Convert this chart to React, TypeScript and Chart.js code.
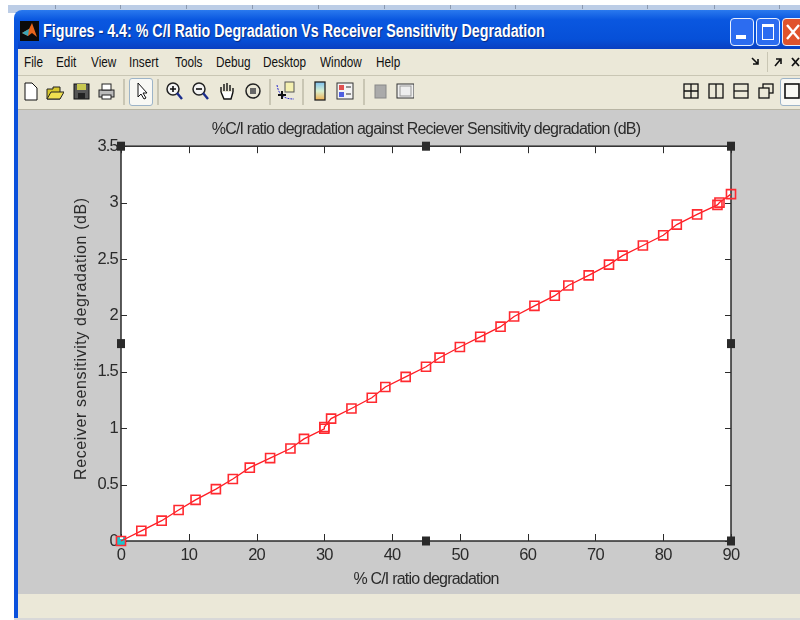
import React, { useEffect, useRef } from "react";
import { Chart, registerables } from "chart.js";

Chart.register(...registerables);

const windowTitle = "Figures - 4.4: % C/I Ratio Degradation Vs Receiver Sensitivity Degradation";
const chartTitle = "%C/I ratio degradation against Reciever Sensitivity degradation (dB)";
const xAxisTitle = "% C/I ratio degradation";
const yAxisTitle = "Receiver sensitivity degradation (dB)";
const menuItems: [string, number][] = [
  ["File", 24], ["Edit", 56], ["View", 91], ["Insert", 129], ["Tools", 175],
  ["Debug", 216], ["Desktop", 263], ["Window", 320], ["Help", 376],
];
const ratioDegradation = [0, 3, 6, 8.5, 11, 14, 16.5, 19, 22, 25, 27, 30, 30, 31, 34, 37, 39, 42, 45, 47, 50, 53, 56, 58, 61, 64, 66, 69, 72, 74, 77, 80, 82, 85, 88, 88.3, 90];
const sensitivityDegradation = [0, 0.09, 0.18, 0.275, 0.365, 0.46, 0.55, 0.65, 0.735, 0.82, 0.905, 0.995, 1.01, 1.085, 1.175, 1.27, 1.365, 1.455, 1.545, 1.625, 1.72, 1.81, 1.9, 1.99, 2.085, 2.175, 2.265, 2.355, 2.45, 2.53, 2.62, 2.71, 2.805, 2.895, 2.98, 3.0, 3.075];

const FONT = '"Liberation Sans", Arial, sans-serif';
const INK = "#2b2b2b";
const NARROW = "-0.8px";
const WIDE = "0.6px";

const matlabFrame = {
  id: "matlabFrame",
  beforeDraw(chart: any) {
    const { ctx, scales } = chart;
    ctx.letterSpacing = NARROW;
    const y = scales.y;
    if (!y.__wideTitle) {
      const original = y.drawTitle;
      y.drawTitle = function () {
        ctx.save();
        ctx.translate(2, -5);
        ctx.letterSpacing = WIDE;
        original.call(y);
        ctx.restore();
        ctx.letterSpacing = NARROW;
      };
      y.__wideTitle = true;
    }
  },
  beforeDatasetsDraw(chart: any) {
    const { ctx, chartArea: a, scales } = chart;
    ctx.save();
    ctx.fillStyle = "#ffffff";
    ctx.fillRect(a.left, a.top, a.width, a.height);
    ctx.strokeStyle = INK;
    ctx.lineWidth = 1.5;
    ctx.strokeRect(a.left, a.top, a.width, a.height);
    ctx.lineWidth = 1;
    ctx.beginPath();
    for (const t of scales.x.ticks) {
      const x = Math.round(scales.x.getPixelForValue(t.value)) + 0.5;
      ctx.moveTo(x, a.bottom); ctx.lineTo(x, a.bottom - 7);
      ctx.moveTo(x, a.top); ctx.lineTo(x, a.top + 7);
    }
    for (const t of scales.y.ticks) {
      const y = Math.round(scales.y.getPixelForValue(t.value)) + 0.5;
      ctx.moveTo(a.left, y); ctx.lineTo(a.left + 6, y);
      ctx.moveTo(a.right, y); ctx.lineTo(a.right - 6, y);
    }
    ctx.stroke();
    const mx = (a.left + a.right) / 2;
    const my = (a.top + a.bottom) / 2;
    ctx.fillStyle = "#2a2a2a";
    for (const [x, y] of [[a.left, a.top], [mx, a.top], [a.right, a.top], [a.left, my], [a.right, my], [a.left, a.bottom], [mx, a.bottom], [a.right, a.bottom]]) {
      ctx.fillRect(x - 4, y - 4.5, 8, 9);
    }
    ctx.fillStyle = "#1fc4cc";
    ctx.fillRect(a.left - 4, a.bottom - 5, 8, 10);
    ctx.fillStyle = "#ffffff";
    ctx.fillRect(a.left - 1, a.bottom - 5, 3, 3);
    ctx.restore();
  },
};

const Ico = ({ x, w = 18, children }: { x: number; w?: number; children: React.ReactNode }) => (
  <svg style={{ position: "absolute", left: x, top: 81, width: w, height: 20 }} viewBox={`0 0 ${w} 20`}>{children}</svg>
);

const Sep = ({ x }: { x: number }) => (
  <div style={{ position: "absolute", left: x, top: 79, width: 2, height: 26, background: "#c9c6b4" }} />
);

const Magnifier = ({ sign }: { sign: "+" | "-" }) => (
  <>
    <circle cx="8" cy="8" r="6" fill="#f4f4f4" stroke="#222" strokeWidth="1.5" />
    <path d="M12 12 L17 18" stroke="#1a2c8c" strokeWidth="2.4" />
    <path d={sign === "+" ? "M5 8H11M8 5V11" : "M5 8H11"} stroke="#111" strokeWidth="1.6" />
  </>
);

export default function App() {
  const ref = useRef<HTMLCanvasElement>(null);

  useEffect(() => {
    document.body.style.margin = "0";
    const chart = new Chart(ref.current!, {
      type: "line",
      data: {
        datasets: [{
          data: ratioDegradation.map((x, i) => ({ x, y: sensitivityDegradation[i] })),
          borderColor: "#ff1c24",
          borderWidth: 1.3,
          pointStyle: "rect",
          pointRadius: 6.4,
          pointBorderWidth: 1.6,
          pointBorderColor: "#ff2a30",
          pointBackgroundColor: "rgba(0,0,0,0)",
          tension: 0,
          clip: false as any,
        }],
      },
      options: {
        animation: false,
        responsive: false,
        events: [],
        layout: { padding: { left: 70, right: 69, top: 0, bottom: 31 } },
        plugins: {
          legend: { display: false },
          tooltip: { enabled: false },
          title: {
            display: true,
            fullSize: false,
            text: chartTitle,
            color: INK,
            font: { family: FONT, size: 16, weight: "normal" },
            padding: { top: 120, bottom: 7 },
          },
        },
        scales: {
          x: {
            type: "linear",
            min: 0,
            max: 90,
            afterFit: (s: any) => { s.height = 48; },
            grid: { display: false, drawTicks: false },
            border: { display: false },
            ticks: {
              stepSize: 10,
              maxRotation: 0,
              padding: 5,
              color: INK,
              font: { family: FONT, size: 16.5 },
              callback: (v: any) => String(v),
            },
            title: {
              display: true,
              text: xAxisTitle,
              color: INK,
              font: { family: FONT, size: 16 },
              padding: { top: 0, bottom: 0 },
            },
          },
          y: {
            type: "linear",
            min: 0,
            max: 3.5,
            afterFit: (s: any) => { s.width = 51; },
            grid: { display: false, drawTicks: false },
            border: { display: false },
            ticks: {
              stepSize: 0.5,
              padding: 3,
              color: INK,
              font: { family: FONT, size: 16.5 },
              callback: (v: any) => String(v),
            },
            title: {
              display: true,
              text: yAxisTitle,
              color: INK,
              font: { family: FONT, size: 16 },
              padding: { top: 0, bottom: 0 },
            },
          },
        },
      },
      plugins: [matlabFrame],
    } as any);
    return () => chart.destroy();
  }, []);

  return (
    <div style={{ position: "relative", width: 800, height: 620, overflow: "hidden", background: "#fff", fontFamily: FONT }}>
      {/* strip of the window behind */}
      <div style={{ position: "absolute", left: 8, top: 5, width: 792, height: 8, background: "#bccde6" }} />
      {[55, 120, 186, 252, 318, 384, 450, 515, 582, 647, 714, 779].map((x) => (
        <div key={x} style={{ position: "absolute", left: x, top: 5, width: 1, height: 4, background: "#8a99b0" }} />
      ))}
      {/* title bar */}
      <div style={{ position: "absolute", left: 14, top: 10, width: 786, height: 39, borderTopLeftRadius: 8, background: "linear-gradient(#2a79ee 0%, #0a57e0 25%, #0650d8 75%, #0a3fc0 100%)" }} />
      <svg style={{ position: "absolute", left: 20, top: 21, width: 19, height: 20 }} viewBox="0 0 19 20">
        <rect width="19" height="20" fill="#0b0b0b" />
        <path d="M2 12 L9 8 L12 2 L17 16 L12 12 L8 15 Z" fill="#e8651c" />
        <path d="M2 12 L9 8 L8 15 Z" fill="#3aa6b8" />
      </svg>
      <div style={{ position: "absolute", left: 43, top: 21, color: "#fff", fontSize: 17.5, fontWeight: 700, whiteSpace: "nowrap", textShadow: "1px 1px 1px #0a2a80", transform: "scaleX(0.815)", transformOrigin: "left center" }}>{windowTitle}</div>
      {[[730, "#2c6cf0"], [756, "#2c6cf0"], [782, "#e0532c"]].map(([x, c]) => (
        <div key={x as number} style={{ position: "absolute", left: x as number, top: 18, width: 22, height: 26, borderRadius: 4, border: "1px solid #e8f0ff", background: c as string }} />
      ))}
      <div style={{ position: "absolute", left: 736, top: 35, width: 10, height: 4, background: "#fff" }} />
      <div style={{ position: "absolute", left: 762, top: 24, width: 10, height: 12, border: "1.5px solid #fff", borderTopWidth: 3 }} />
      <svg style={{ position: "absolute", left: 786, top: 24, width: 14, height: 16 }} viewBox="0 0 14 16">
        <path d="M1 1 L13 15 M13 1 L1 15" stroke="#fff" strokeWidth="2.4" />
      </svg>
      {/* left window edge */}
      <div style={{ position: "absolute", left: 14, top: 40, width: 4, height: 580, background: "#0a50dc" }} />
      {/* menu bar */}
      <div style={{ position: "absolute", left: 18, top: 49, width: 782, height: 26, background: "#ebe8d8", borderBottom: "1px solid #c9c6b4" }} />
      {menuItems.map(([label, x]) => (
        <div key={label} style={{ position: "absolute", left: x, top: 54, fontSize: 14, color: "#111", whiteSpace: "nowrap", transform: "scaleX(0.84)", transformOrigin: "left center" }}>{label}</div>
      ))}
      <div style={{ position: "absolute", left: 767, top: 52, width: 1, height: 20, background: "#c9c6b4" }} />
      <svg style={{ position: "absolute", left: 750, top: 56, width: 50, height: 12 }} viewBox="0 0 50 12">
        <path d="M2 2 L8 8 M8 3 V8 H3" stroke="#111" strokeWidth="1.6" fill="none" />
        <path d="M25 10 L30 4 M26 3 H31 V8" stroke="#111" strokeWidth="1.6" fill="none" />
        <path d="M42 2 L49 10 M49 2 L42 10" stroke="#111" strokeWidth="1.8" />
      </svg>
      {/* toolbar */}
      <div style={{ position: "absolute", left: 18, top: 76, width: 782, height: 33, background: "#ebe8d8", borderBottom: "1px solid #b8b5a4" }} />
      <Ico x={22}><path d="M3 2H10L15 7V19H3Z" fill="#fff" stroke="#111" /></Ico>
      <Ico x={46}><path d="M1 18V8H7V6H14V18Z" fill="#d8c82c" stroke="#222" /><path d="M1 18L5 11H18L14 18Z" fill="#f0e050" stroke="#222" /></Ico>
      <Ico x={72}><rect x="2" y="3" width="15" height="15" fill="#555" stroke="#111" /><rect x="5" y="3" width="9" height="6" fill="#c8c850" /><rect x="6" y="12" width="7" height="6" fill="#222" /></Ico>
      <Ico x={97}><rect x="2" y="9" width="15" height="7" fill="#bbb" stroke="#222" /><rect x="5" y="3" width="9" height="6" fill="#fff" stroke="#222" /><rect x="5" y="14" width="9" height="4" fill="#fff" stroke="#222" /></Ico>
      <Sep x={123} />
      <div style={{ position: "absolute", left: 129, top: 78, width: 24, height: 28, border: "1px solid #9db4c8", borderRadius: 3, background: "#f8f8f4", boxSizing: "border-box" }} />
      <Ico x={133}><path d="M5 2V16L8 13L11 18L13 17L10 12H14Z" fill="#fff" stroke="#111" /></Ico>
      <Sep x={157} />
      <Ico x={165}><Magnifier sign="+" /></Ico>
      <Ico x={191}><Magnifier sign="-" /></Ico>
      <Ico x={217}><path d="M4 11V6M7 10V3M10 10V2M13 10V4M16 11V7M4 11L7 18H14L16 11" fill="#fff" stroke="#111" strokeWidth="1.4" /></Ico>
      <Ico x={244}><circle cx="9" cy="10" r="7" fill="none" stroke="#222" strokeWidth="1.5" /><rect x="6" y="7" width="6" height="6" fill="#666" /></Ico>
      <Sep x={269} />
      <Ico x={276} w={20}><path d="M1 4 C3 16 10 18 18 18" fill="none" stroke="#2a2ad0" strokeDasharray="2 1" /><rect x="9" y="1" width="9" height="10" fill="#f4f0b0" stroke="#555" /><path d="M2 14H10M6 10V18" stroke="#111" strokeWidth="2" /></Ico>
      <Sep x={302} />
      <Ico x={313}><defs><linearGradient id="cb" x1="0" y1="0" x2="0" y2="1"><stop offset="0" stopColor="#7cc0f0" /><stop offset="0.5" stopColor="#d8f0d0" /><stop offset="1" stopColor="#f0b050" /></linearGradient></defs><rect x="2" y="1" width="10" height="18" fill="url(#cb)" stroke="#222" strokeWidth="1.3" /></Ico>
      <Ico x={336}><rect x="1" y="2" width="16" height="16" fill="#f4f4f4" stroke="#333" /><rect x="3" y="4" width="5" height="5" fill="#e05050" /><rect x="3" y="11" width="5" height="5" fill="#5060e0" /><path d="M10 6H15M10 13H15" stroke="#333" /></Ico>
      <Sep x={363} />
      <Ico x={373}><rect x="2" y="4" width="11" height="13" fill="#aaa" stroke="#888" /></Ico>
      <Ico x={396}><rect x="1" y="3" width="17" height="14" fill="#f0f0f0" stroke="#333" /><rect x="4" y="5" width="11" height="10" fill="#eee" stroke="#999" /></Ico>
      <Ico x={682}><rect x="2" y="3" width="14" height="14" fill="none" stroke="#111" strokeWidth="1.3" /><path d="M9 3V17M2 10H16" stroke="#111" strokeWidth="1.3" /></Ico>
      <Ico x={707}><rect x="2" y="3" width="14" height="14" fill="none" stroke="#111" strokeWidth="1.3" /><path d="M9 3V17" stroke="#111" strokeWidth="1.3" /></Ico>
      <Ico x={732}><rect x="2" y="3" width="14" height="14" fill="none" stroke="#111" strokeWidth="1.3" /><path d="M2 10H16" stroke="#111" strokeWidth="1.3" /></Ico>
      <Ico x={757}><rect x="6" y="3" width="10" height="9" fill="none" stroke="#111" strokeWidth="1.3" /><rect x="2" y="7" width="10" height="10" fill="#ebe8d8" stroke="#111" strokeWidth="1.3" /></Ico>
      <div style={{ position: "absolute", left: 780, top: 78, width: 24, height: 28, border: "1px solid #9db4c8", borderRadius: 3, background: "#f8f8f4", boxSizing: "border-box" }} />
      <Ico x={784}><rect x="1" y="3" width="14" height="14" fill="none" stroke="#111" strokeWidth="1.6" /></Ico>
      {/* figure area */}
      <div style={{ position: "absolute", left: 18, top: 110, width: 782, height: 484, background: "#cbcbcb" }} />
      {/* status bar */}
      <div style={{ position: "absolute", left: 18, top: 594, width: 782, height: 24, background: "#ebe8d8" }} />
      <div style={{ position: "absolute", left: 14, top: 618, width: 786, height: 2, background: "#d8d8d8" }} />
      <canvas ref={ref} width={800} height={620} style={{ position: "absolute", left: 0, top: 0, display: "block" }} />
    </div>
  );
}
